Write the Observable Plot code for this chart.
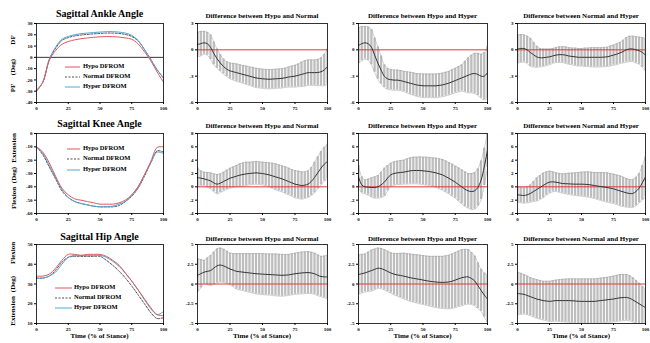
<!DOCTYPE html>
<html><head><meta charset="utf-8">
<script src="https://cdn.jsdelivr.net/npm/d3@7"></script>
<script src="https://cdn.jsdelivr.net/npm/@observablehq/plot@0.6"></script>
<style>
body{margin:0;background:#fff;}
#c{position:relative;width:650px;height:343px;overflow:hidden;font-family:"Liberation Serif","Times New Roman",serif;}
#c svg.pl{position:absolute;overflow:visible;}
#ov{position:absolute;left:0;top:0;}
</style></head><body><div id="c"></div>
<script>
// ---------- x grids ----------
const X5 = [0,5,10,15,20,25,30,35,40,45,50,55,60,65,70,75,80,85,90,95,100];
const X25 = [0,2.5,5,7.5,10,12.5,15,17.5,20,22.5,25,27.5,30,32.5,35,37.5,40,42.5,45,47.5,50,52.5,55,57.5,60,62.5,65,67.5,70,72.5,75,77.5,80,82.5,85,87.5,90,92.5,95,97.5,100];
const xTicks = [0,25,50,75,100];

// ---------- joint angle curves (deg) ----------
const ankleHypo   = [-29,-22,-3,6,11.5,14,15.5,16.5,17.2,17.8,18.2,18.4,18.3,18,17.2,16,12,5,-3,-13,-22];
const ankleNormal = [-30,-22,-2,8,15,17.5,19,19.8,20.3,20.8,21.2,21.5,21.5,21.2,20.3,18.5,14.5,7,-2,-11,-18.5];
const ankleHyper  = [-30,-22,-2,9,16,18.5,20,21,21.5,22,22.4,22.8,22.8,22.4,21.5,19.5,15,7,-2,-11,-18];
const kneeHypo    = [-10,-14,-22,-32,-41,-46,-49,-50,-51,-52,-53,-53,-53,-52,-50,-46,-40,-31,-21,-10.5,-10];
const kneeNormal  = [-10,-16,-25,-34,-43,-48,-51,-52.5,-53.5,-54.5,-55,-55,-55,-54,-51,-47,-41,-32,-22,-13,-14];
const kneeHyper   = [-10,-15,-24,-33,-42,-48,-51,-52.5,-53.5,-54.5,-55,-55,-54.5,-53,-51,-46,-40,-31,-22,-14,-15];
const hipHypo     = [34,34,35,38,42,45,45,44.5,45,45,45,44,42,39.5,35.5,31.5,27,22.5,18,14.5,14];
const hipNormal   = [33,33,34,37,41,43.5,44,44,44,44,44,42,39.5,36.5,33,29,24.5,20,15.5,12.5,13];
const hipHyper    = [33,33,34,36,40,43.5,44.5,44.5,44.5,44.5,44.5,43.5,41.5,39,35.5,31.5,27,22,17.5,14.5,16];

// ---------- differences: mean and SD ----------
const ankHNm = [0.6,0.7,0.8,0.7,0.3,-0.4,-1.0,-1.5,-1.9,-2.2,-2.4,-2.5,-2.6,-2.7,-2.8,-2.9,-3.0,-3.1,-3.2,-3.25,-3.3,-3.33,-3.35,-3.33,-3.3,-3.28,-3.25,-3.18,-3.1,-3.05,-3.0,-2.9,-2.8,-2.7,-2.6,-2.6,-2.6,-2.58,-2.5,-2.3,-1.9];
const ankHNs = [1.4,1.4,1.3,1.3,1.4,1.3,1.1,0.95,0.85,0.85,0.9,0.95,1.0,1.0,1.0,1.05,1.05,1.1,1.1,1.1,1.1,1.1,1.1,1.1,1.1,1.1,1.1,1.1,1.15,1.2,1.25,1.3,1.4,1.45,1.45,1.45,1.45,1.5,1.6,1.8,2.0];
const ankHHm = [0.5,0.7,0.8,0.7,0.3,-0.6,-1.5,-2.3,-3.0,-3.3,-3.4,-3.45,-3.45,-3.5,-3.6,-3.7,-3.8,-3.9,-4.0,-4.05,-4.1,-4.1,-4.1,-4.1,-4.1,-4.05,-4.0,-3.9,-3.8,-3.65,-3.5,-3.35,-3.2,-3.05,-2.9,-2.75,-2.7,-2.8,-3.0,-3.0,-2.6];
const ankHHs = [2.05,1.95,1.85,1.9,2.0,1.95,1.85,1.6,1.3,1.2,1.15,1.15,1.15,1.15,1.15,1.2,1.25,1.28,1.3,1.32,1.35,1.35,1.35,1.35,1.35,1.35,1.35,1.35,1.35,1.38,1.4,1.45,1.5,1.75,2.0,2.15,2.3,2.4,2.5,2.7,3.0];
const ankNHm = [0.1,0.15,0.15,0.0,-0.3,-0.55,-0.8,-0.9,-0.9,-0.85,-0.8,-0.7,-0.6,-0.55,-0.55,-0.6,-0.7,-0.75,-0.8,-0.85,-0.85,-0.85,-0.85,-0.85,-0.85,-0.85,-0.85,-0.83,-0.8,-0.7,-0.6,-0.5,-0.35,-0.2,0.0,0.1,0.1,0.0,-0.1,-0.3,-0.6];
const ankNHs = [1.6,1.6,1.55,1.55,1.6,1.4,1.2,1.05,1.0,0.95,0.9,0.85,0.85,0.9,0.9,0.95,0.95,0.95,1.0,1.0,1.0,1.05,1.05,1.1,1.1,1.1,1.1,1.1,1.1,1.15,1.15,1.2,1.2,1.3,1.4,1.45,1.45,1.5,1.55,1.7,1.8];

const kneHNm = [1.4,1.3,1.2,1.05,0.9,0.6,0.4,0.55,0.8,1.05,1.3,1.45,1.6,1.75,1.85,1.95,2.0,2.05,2.1,2.05,2.0,1.9,1.8,1.65,1.5,1.35,1.2,1.0,0.8,0.6,0.4,0.3,0.2,0.25,0.4,0.8,1.4,2.1,2.8,3.4,3.8];
const kneHNs = [1.4,1.1,1.0,1.1,1.2,1.35,1.45,1.4,1.4,1.45,1.5,1.55,1.6,1.7,1.75,1.75,1.7,1.7,1.7,1.7,1.7,1.75,1.8,1.9,1.95,1.95,1.95,2.0,2.0,2.0,2.05,2.05,2.05,2.0,2.0,2.1,2.3,2.4,2.5,2.55,2.6];
const kneHHm = [1.5,0.3,0.0,-0.05,-0.1,-0.1,0.0,0.3,0.7,1.3,1.8,2.0,2.1,2.15,2.2,2.3,2.4,2.45,2.45,2.45,2.4,2.35,2.3,2.2,2.1,1.95,1.8,1.55,1.3,1.0,0.7,0.35,0.0,-0.35,-0.6,-0.7,-0.6,-0.1,1.0,3.0,5.5];
const kneHHs = [1.7,1.2,1.05,1.2,1.45,1.6,1.7,1.9,2.1,1.9,1.75,1.75,1.75,1.8,1.8,1.9,1.95,2.0,2.0,2.05,2.05,2.1,2.1,2.15,2.2,2.25,2.3,2.35,2.35,2.4,2.4,2.5,2.55,2.6,2.6,2.7,2.75,2.8,2.9,2.8,2.6];
const kneNHm = [-1.2,-1.25,-1.3,-1.2,-1.0,-0.7,-0.4,-0.1,0.2,0.5,0.7,0.75,0.7,0.6,0.5,0.47,0.45,0.42,0.4,0.4,0.4,0.38,0.35,0.28,0.2,0.12,0.05,-0.02,-0.1,-0.2,-0.3,-0.45,-0.6,-0.75,-0.9,-1.0,-1.0,-0.7,-0.2,0.6,1.5];
const kneNHs = [1.15,1.15,1.15,1.2,1.3,1.5,1.75,1.8,1.85,1.75,1.65,1.5,1.4,1.42,1.45,1.52,1.6,1.65,1.7,1.75,1.8,1.85,1.9,1.92,1.95,2.02,2.1,2.15,2.2,2.2,2.2,2.22,2.25,2.2,2.15,2.1,2.1,2.15,2.2,2.6,3.0];

const hipHNm = [1.1,1.3,1.5,1.6,1.7,2.0,2.3,2.4,2.3,2.1,1.9,1.75,1.6,1.55,1.5,1.45,1.4,1.35,1.3,1.28,1.25,1.22,1.2,1.18,1.15,1.12,1.1,1.12,1.15,1.22,1.3,1.35,1.4,1.43,1.45,1.4,1.3,1.1,0.95,0.9,0.9];
const hipHNs = [2.1,1.8,1.5,1.7,1.9,2.05,2.15,2.15,2.1,2.05,2.0,2.1,2.25,2.3,2.35,2.4,2.45,2.5,2.55,2.58,2.6,2.6,2.6,2.62,2.65,2.65,2.65,2.62,2.6,2.6,2.6,2.62,2.65,2.65,2.65,2.62,2.6,2.58,2.55,2.65,2.75];
const hipHHm = [1.2,1.3,1.4,1.55,1.7,1.85,2.0,1.95,1.8,1.6,1.4,1.25,1.15,1.08,1.0,0.9,0.8,0.72,0.65,0.58,0.5,0.42,0.35,0.3,0.25,0.22,0.2,0.22,0.25,0.35,0.5,0.65,0.8,0.88,0.9,0.7,0.4,-0.2,-0.8,-1.4,-1.9];
const hipHHs = [2.5,2.45,2.4,2.5,2.6,2.58,2.55,2.55,2.55,2.55,2.55,2.62,2.7,2.8,2.9,2.95,3.0,3.02,3.05,3.08,3.1,3.12,3.15,3.2,3.25,3.28,3.3,3.35,3.4,3.45,3.5,3.52,3.55,3.5,3.45,3.3,3.15,2.9,2.65,2.8,3.0];
const hipNHm = [-1.2,-1.25,-1.3,-1.45,-1.6,-1.75,-1.9,-2.0,-2.1,-2.15,-2.2,-2.15,-2.1,-2.1,-2.1,-2.1,-2.1,-2.12,-2.15,-2.18,-2.2,-2.2,-2.2,-2.2,-2.2,-2.15,-2.1,-2.05,-2.0,-1.95,-1.9,-1.82,-1.75,-1.72,-1.7,-1.8,-2.0,-2.25,-2.5,-2.75,-3.0];
const hipNHs = [2.7,2.6,2.5,2.45,2.4,2.42,2.45,2.45,2.45,2.5,2.55,2.58,2.6,2.65,2.7,2.72,2.75,2.78,2.8,2.82,2.85,2.85,2.85,2.85,2.85,2.85,2.85,2.85,2.85,2.88,2.9,2.92,2.95,2.92,2.9,2.85,2.8,2.7,2.6,2.45,2.3];

// ---------- labels ----------
const jointTitles = ["Sagittal Ankle Angle","Sagittal Knee Angle","Sagittal Hip Angle"];
const diffTitles = ["Difference between Hypo and Normal","Difference between Hypo and Hyper","Difference between Normal and Hyper"];
const groupNames = ["Hypo  DFROM","Normal  DFROM","Hyper  DFROM"];
const xLabel = "Time (% of Stance)";
const yLabels = [["PF","(Deg)","DF"],["Flexion","(Deg)","Extension"],["Extension","(Deg)","Flexion"]];

// ---------- styles ----------
const RED = "#e4565a", BLUE = "#4fa9d6", GRAYBAR = "#bdbdbd";
const FONT = '"Liberation Serif","Times New Roman",serif';

const cols = [{l:36,r:163},{l:197,r:327},{l:358,r:487},{l:517,r:645}];
const rows = [{t:23,b:102},{t:133,b:213},{t:244,b:323}];
const kinY = [{d:[-40,30],t:[-40,-30,-20,-10,0,10,20,30]},{d:[-60,0],t:[-60,-50,-40,-30,-20,-10,0]},{d:[10,50],t:[10,20,30,40,50]}];
const difY = [{d:[-6,3],t:[-6,-3,0,3]},{d:[-4,8],t:[-4,-2,0,2,4,6,8]},{d:[-5,5],t:[-5,-2.5,0,2.5,5]}];

const C = document.getElementById("c");
const mL=30,mR=4,mT=4,mB=12;
function place(svg,col,row){
  svg.classList.add("pl");
  svg.style.left=(cols[col].l-mL)+"px";
  svg.style.top=(rows[row].t-mT)+"px";
  C.appendChild(svg);
}
function base(col,row,yd,marks){
  const w=cols[col].r-cols[col].l, h=rows[row].b-rows[row].t;
  return Plot.plot({
    width:w+mL+mR,height:h+mT+mB,marginLeft:mL,marginRight:mR,marginTop:mT,marginBottom:mB,
    x:{domain:[0,100],ticks:xTicks,tickSize:2,tickPadding:1.5,label:null,tickFormat:d=>String(d)},
    y:{domain:yd.d,ticks:yd.t,tickSize:2,tickPadding:2,label:null,tickFormat:d=>String(d)},
    style:{fontFamily:FONT,fontSize:"5px",fontWeight:"bold",background:"transparent",color:"#000"},
    marks:[...marks,Plot.frame({stroke:"#000",strokeWidth:0.8})]
  });
}
const kin = [[ankleHypo,ankleNormal,ankleHyper],[kneeHypo,kneeNormal,kneeHyper],[hipHypo,hipNormal,hipHyper]];
const dif = [[[ankHNm,ankHNs],[ankHHm,ankHHs],[ankNHm,ankNHs]],[[kneHNm,kneHNs],[kneHHm,kneHHs],[kneNHm,kneNHs]],[[hipHNm,hipHNs],[hipHHm,hipHHs],[hipNHm,hipNHs]]];

for(let r=0;r<3;r++){
  const [hy,no,hp]=kin[r];
  const rec=(arr)=>X5.map((x,i)=>({x,y:arr[i]}));
  const marks=[];
  if(r===0) marks.push(Plot.ruleY([0],{stroke:"#000",strokeWidth:0.8}));
  marks.push(
    Plot.line(rec(no),{x:"x",y:"y",stroke:"#222",strokeWidth:0.8,strokeDasharray:"2,1.5",curve:"catmull-rom"}),
    Plot.line(rec(hp),{x:"x",y:"y",stroke:BLUE,strokeWidth:1,curve:"catmull-rom"}),
    Plot.line(rec(hy),{x:"x",y:"y",stroke:RED,strokeWidth:1,curve:"catmull-rom"})
  );
  place(base(0,r,kinY[r],marks),0,r);
  for(let k=0;k<3;k++){
    const [m,s]=dif[r][k];
    const data=X25.map((x,i)=>({x,m:m[i],lo:m[i]-s[i],hi:m[i]+s[i]}));
    const mk=[
      Plot.ruleX(data,{x:"x",y1:"lo",y2:"hi",stroke:GRAYBAR,strokeWidth:2.3,clip:true}),
      Plot.line(data,{x:"x",y:"hi",stroke:"#a0a0a0",strokeWidth:0.5,curve:"catmull-rom",clip:true}),
      Plot.line(data,{x:"x",y:"lo",stroke:"#a0a0a0",strokeWidth:0.5,curve:"catmull-rom",clip:true}),
      Plot.ruleY([0],{stroke:"#e03a3a",strokeWidth:1}),
      Plot.line(data,{x:"x",y:"m",stroke:"#333",strokeWidth:1,curve:"catmull-rom",clip:true})
    ];
    place(base(k+1,r,difY[r],mk),k+1,r);
  }
}

// ---------- overlay text: titles, axis labels, legends ----------
const ns="http://www.w3.org/2000/svg";
const ov=document.createElementNS(ns,"svg");
ov.setAttribute("id","ov");ov.setAttribute("width",650);ov.setAttribute("height",343);
ov.style.fontFamily=FONT;ov.style.fontWeight="bold";
C.appendChild(ov);
function txt(x,y,s,size,opts={}){
  const t=document.createElementNS(ns,"text");
  t.setAttribute("x",x);t.setAttribute("y",y);t.setAttribute("font-size",size);
  t.setAttribute("text-anchor",opts.anchor||"middle");
  t.setAttribute("dominant-baseline",opts.base||"middle");
  if(opts.rot) t.setAttribute("transform",`rotate(-90 ${x} ${y})`);
  t.textContent=s;ov.appendChild(t);
}
function seg(x1,x2,y,stroke,dash,w){
  const l=document.createElementNS(ns,"line");
  l.setAttribute("x1",x1);l.setAttribute("x2",x2);l.setAttribute("y1",y);l.setAttribute("y2",y);
  l.setAttribute("stroke",stroke);l.setAttribute("stroke-width",w);
  if(dash) l.setAttribute("stroke-dasharray",dash);
  ov.appendChild(l);
}
const titleY=[15,125,238];
for(let r=0;r<3;r++){
  txt((cols[0].l+cols[0].r)/2,titleY[r],jointTitles[r],"10px");
  for(let k=0;k<3;k++) txt((cols[k+1].l+cols[k+1].r)/2,titleY[r]+1.5,diffTitles[k],"7px");
}
for(let c=0;c<4;c++) txt((cols[c].l+cols[c].r)/2,336,xLabel,"7px");
const yLabPos=[[[13,88],[13,67],[13,40]],[[14,198],[14,175],[14,148]],[[13,311],[13,284],[13,253]]];
for(let r=0;r<3;r++) for(let i=0;i<3;i++) txt(yLabPos[r][i][0],yLabPos[r][i][1],yLabels[r][i],"7px",{rot:true});
const legPos=[{x1:65,x2:80,tx:83,ys:[67,77,87]},{x1:67,x2:80,tx:83,ys:[149,159,170]},{x1:55,x2:72,tx:74,ys:[288,298,308]}];
const legStyle=[[RED,null,1],["#222","2,1.5",0.8],[BLUE,null,1]];
for(let r=0;r<3;r++){
  const p=legPos[r];
  for(let i=0;i<3;i++){
    seg(p.x1,p.x2,p.ys[i],legStyle[i][0],legStyle[i][1],legStyle[i][2]);
    txt(p.tx,p.ys[i],groupNames[i],"6.5px",{anchor:"start"});
  }
}
</script></body></html>
